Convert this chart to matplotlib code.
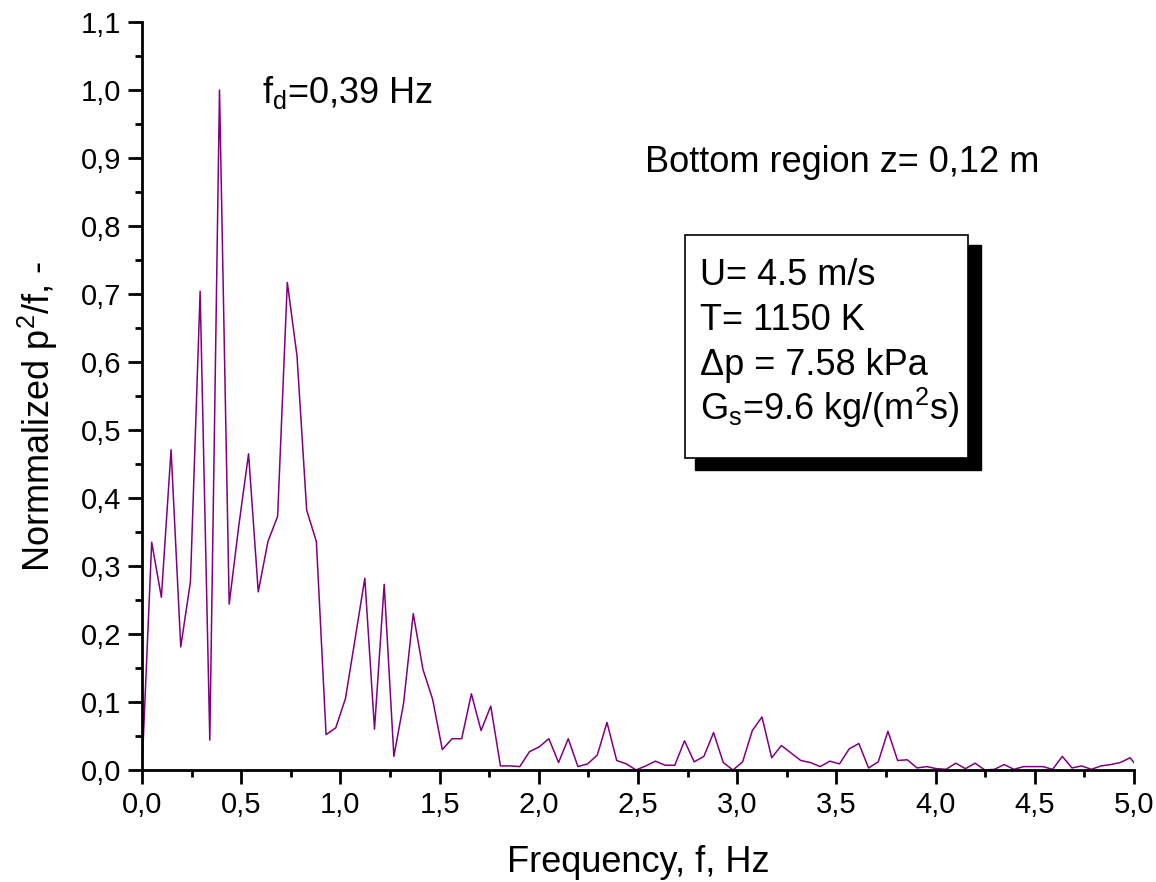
import numpy as np
import matplotlib
matplotlib.use('Agg')
import matplotlib.pyplot as plt
from matplotlib.ticker import MultipleLocator, FuncFormatter
from matplotlib.patches import Rectangle

plt.rcParams['font.family'] = ['Liberation Sans', 'DejaVu Sans']
plt.rcParams['mathtext.fontset'] = 'custom'
plt.rcParams['mathtext.rm'] = 'Liberation Sans'
plt.rcParams['mathtext.default'] = 'regular'

# normalized spectrum p^2/f (step df in Hz)
df = 0.048828
p2f = [0.0, 0.335, 0.254, 0.471, 0.181, 0.277, 0.704, 0.044, 1.0, 0.244,
       0.36, 0.465, 0.262, 0.336, 0.373, 0.717, 0.609, 0.382, 0.336, 0.052,
       0.062, 0.105, 0.193, 0.282, 0.060, 0.273, 0.020, 0.098, 0.230, 0.148,
       0.104, 0.030, 0.046, 0.046, 0.112, 0.058, 0.094, 0.006, 0.006, 0.005,
       0.027, 0.034, 0.046, 0.011, 0.046, 0.005, 0.009, 0.022, 0.070, 0.014,
       0.009, 0.0, 0.006, 0.013, 0.007, 0.007, 0.043, 0.012, 0.020, 0.055,
       0.011, 0.0, 0.012, 0.058, 0.078, 0.018, 0.036, 0.025, 0.014, 0.011,
       0.005, 0.013, 0.009, 0.031, 0.039, 0.003, 0.012, 0.057, 0.014, 0.015,
       0.003, 0.005, 0.002, 0.001, 0.010, 0.002, 0.010, 0.0, 0.001, 0.008,
       0.001, 0.005, 0.005, 0.005, 0.001, 0.020, 0.003, 0.006, 0.001, 0.006,
       0.008, 0.011, 0.018, 0.0]
freq = np.arange(len(p2f)) * df

box_lines = ['U= 4.5 m/s', 'T= 1150 K', '\u0394p = 7.58 kPa', 'G$_s$=9.6 kg/(m$^2$s)']

W, H = 1156, 882
fig = plt.figure(figsize=(W / 100, H / 100), dpi=100)
ax = fig.add_axes([142 / W, 1 - 770 / H, (1134 - 142) / W, (770 - 22) / H])

ax.plot(freq, p2f, color='#800080', lw=1.1)

ax.set_xlim(0, 5.0)
ax.set_ylim(0, 1.1)
ax.spines['top'].set_visible(False)
ax.spines['right'].set_visible(False)
for s in ['left', 'bottom']:
    ax.spines[s].set_linewidth(2.0)

ax.xaxis.set_major_locator(MultipleLocator(0.5))
ax.xaxis.set_minor_locator(MultipleLocator(0.25))
ax.yaxis.set_major_locator(MultipleLocator(0.1))
ax.yaxis.set_minor_locator(MultipleLocator(0.05))
fmt = FuncFormatter(lambda v, _: f'{v:.1f}'.replace('.', ','))
ax.xaxis.set_major_formatter(fmt)
ax.yaxis.set_major_formatter(fmt)
ax.tick_params(which='major', direction='out', length=10, width=2, labelsize=21, pad=5)
ax.tick_params(which='minor', direction='out', length=5, width=2)


def px(x, y):
    return x / W, 1 - y / H


fig.text(*px(638, 862), 'Frequency, f, Hz', fontsize=26, ha='center', va='center')
fig.text(*px(38, 417), 'Normmalized p$^2$/f, -', fontsize=26, ha='center', va='center',
         rotation=90)

fig.text(*px(262, 103), 'f$_d$=0,39 Hz', fontsize=26, va='baseline')
fig.text(*px(645, 172), 'Bottom region z= 0,12 m', fontsize=26, va='baseline')

# box with drop shadow
fig.patches.append(Rectangle(px(695, 470), (981 - 695) / W, (470 - 245) / H,
                             transform=fig.transFigure, facecolor='black',
                             edgecolor='black', zorder=5))
fig.patches.append(Rectangle(px(685, 458), (968 - 685) / W, (458 - 235) / H,
                             transform=fig.transFigure, facecolor='white',
                             edgecolor='black', lw=1.2, zorder=6))
for i, line in enumerate(box_lines):
    fig.text(*px(700, 285 + 45 * i), line, fontsize=26, va='baseline', zorder=7)

fig.savefig('out.png', dpi=100)
